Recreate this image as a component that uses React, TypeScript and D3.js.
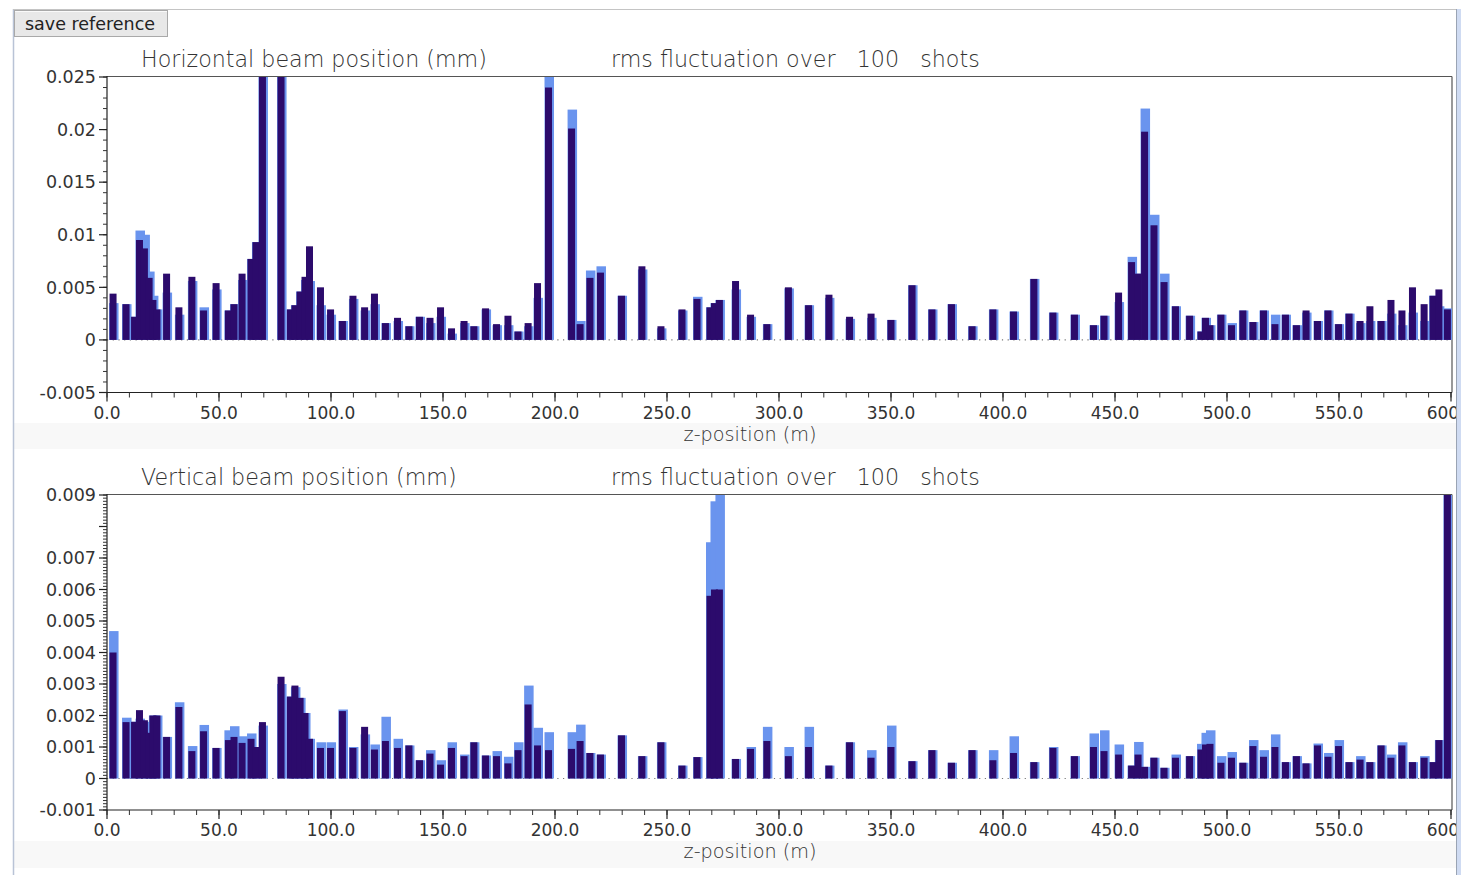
import React from "react";
import * as d3 from "d3";

// BPM positions along the beamline (m)
const zPos = [
  2.7, 8.5, 12.3, 14.5, 16.7, 18.8, 20.5, 22.3, 26.6, 32.1,
  37.9, 43.1, 48.7, 54.2, 56.7, 60.3, 64.3, 66.5, 69.4, 77.7,
  81.9, 83.9, 86.2, 88.4, 90.4, 95.3, 99.8, 105.1, 109.8, 115.0,
  119.4, 124.3, 129.7, 134.8, 139.5, 144.2, 148.9, 153.8, 159.4, 163.8,
  169.0, 173.9, 179.0, 183.5, 188.0, 192.2, 197.1, 207.4, 211.2, 215.6,
  220.3, 229.7, 238.8, 247.3, 256.7, 263.4, 269.2, 271.2, 273.4, 280.6,
  287.3, 294.6, 304.2, 313.2, 322.3, 331.5, 341.1, 350.0, 359.4, 368.3,
  377.0, 386.2, 395.5, 404.7, 413.8, 422.3, 431.9, 440.4, 445.1, 451.6,
  457.4, 460.3, 463.2, 467.4, 471.9, 477.0, 483.3, 488.4, 490.4, 492.4,
  497.3, 502.0, 507.1, 511.6, 516.3, 521.4, 526.1, 531.0, 535.3, 540.4,
  545.1, 549.8, 554.5, 559.4, 563.8, 568.8, 573.2, 578.1, 582.8, 588.0,
  592.0, 594.6, 598.4,
];

// Horizontal rms (mm): current shots (dark) and saved reference (light)
const hCurrent = [
  0.0044, 0.0034, 0.0022, 0.0095, 0.0087, 0.0059, 0.0038, 0.0029, 0.0063, 0.0031,
  0.006, 0.0028, 0.0054, 0.0028, 0.0034, 0.0063, 0.0077, 0.0093, 0.03, 0.03,
  0.0029, 0.0033, 0.0046, 0.006, 0.0089, 0.005, 0.0029, 0.0018, 0.0042, 0.0031,
  0.0044, 0.0016, 0.0021, 0.0013, 0.0022, 0.0021, 0.0031, 0.0011, 0.0018, 0.0013,
  0.003, 0.0015, 0.0023, 0.0008, 0.0016, 0.0054, 0.024, 0.0201, 0.0015, 0.0059,
  0.0064, 0.0042, 0.007, 0.0013, 0.0029, 0.0039, 0.0031, 0.0035, 0.0038, 0.0056,
  0.0024, 0.0015, 0.005, 0.0033, 0.0043, 0.0022, 0.0025, 0.0019, 0.0052, 0.0029,
  0.0034, 0.0013, 0.0029, 0.0027, 0.0058, 0.0026, 0.0024, 0.0014, 0.0023, 0.0045,
  0.0074, 0.0063, 0.0198, 0.0109, 0.0055, 0.0032, 0.0023, 0.0008, 0.0021, 0.0014,
  0.0024, 0.0014, 0.0028, 0.0017, 0.0028, 0.0015, 0.0024, 0.0014, 0.0028, 0.0018,
  0.0028, 0.0015, 0.0025, 0.0018, 0.0032, 0.0018, 0.0038, 0.0028, 0.005, 0.0034,
  0.0042, 0.0048, 0.0029,
];
const hReference = [
  0.0035, 0.0034, 0.0022, 0.0104, 0.01, 0.0065, 0.0042, 0.0029, 0.0045, 0.0024,
  0.0056, 0.0031, 0.0048, 0.0028, 0.0034, 0.0057, 0.0077, 0.0093, 0.03, 0.03,
  0.0029, 0.0033, 0.0046, 0.0057, 0.0056, 0.0033, 0.0024, 0.0018, 0.0039, 0.0028,
  0.0034, 0.0016, 0.0018, 0.0013, 0.0022, 0.0016, 0.0022, 0.0006, 0.0016, 0.0013,
  0.0029, 0.0014, 0.0014, 0.0008, 0.0013, 0.004, 0.026, 0.0219, 0.0018, 0.0066,
  0.007, 0.0042, 0.0067, 0.0011, 0.0028, 0.0041, 0.0031, 0.0035, 0.0038, 0.0048,
  0.0022, 0.0015, 0.0049, 0.0033, 0.004, 0.002, 0.0021, 0.0019, 0.0052, 0.0029,
  0.0034, 0.0013, 0.0029, 0.0027, 0.0058, 0.0026, 0.0024, 0.0014, 0.0023, 0.0036,
  0.0079, 0.0063, 0.022, 0.0119, 0.0063, 0.0032, 0.0023, 0.0008, 0.0021, 0.0014,
  0.0024, 0.0016, 0.0028, 0.0017, 0.0028, 0.0024, 0.0024, 0.0014, 0.0026, 0.0018,
  0.0028, 0.0015, 0.0025, 0.0016, 0.0018, 0.0018, 0.0025, 0.0014, 0.0026, 0.0018,
  0.0042, 0.0032, 0.003,
];

// Vertical rms (mm)
const vCurrent = [
  0.004, 0.00179, 0.0018, 0.00217, 0.00185, 0.00145, 0.002, 0.002, 0.00132, 0.00227,
  0.00087, 0.0015, 0.00097, 0.00122, 0.00132, 0.00113, 0.00126, 0.001, 0.00179, 0.00323,
  0.0026, 0.00295, 0.00256, 0.00208, 0.00126, 0.00097, 0.00097, 0.00214, 0.00097, 0.00164,
  0.00092, 0.00119, 0.00097, 0.00105, 0.00058, 0.00079, 0.00044, 0.00097, 0.00071, 0.00115,
  0.00073, 0.00071, 0.00048, 0.0009, 0.00235, 0.00105, 0.0009, 0.00094, 0.00119, 0.00081,
  0.00076, 0.00137, 0.00071, 0.00115, 0.00041, 0.00068, 0.0058, 0.006, 0.006, 0.00062,
  0.00094, 0.00119, 0.00071, 0.001, 0.00041, 0.00115, 0.00066, 0.001, 0.00055, 0.0009,
  0.0005, 0.0009, 0.00058, 0.00081, 0.00052, 0.00097, 0.00071, 0.001, 0.00087, 0.00076,
  0.00041, 0.00076, 0.00037, 0.00066, 0.00034, 0.00066, 0.00071, 0.00092, 0.00108, 0.0011,
  0.0005, 0.00066, 0.0005, 0.00103, 0.00069, 0.001, 0.00052, 0.00071, 0.00048, 0.00105,
  0.00069, 0.00103, 0.00052, 0.0006, 0.00052, 0.00105, 0.00066, 0.00105, 0.00052, 0.00066,
  0.00052, 0.00122, 0.01,
];
const vReference = [
  0.00468, 0.00193, 0.0018, 0.0019, 0.0018, 0.0016, 0.002, 0.002, 0.00132, 0.00242,
  0.00103, 0.0017, 0.00097, 0.00153, 0.00166, 0.00134, 0.00143, 0.001, 0.00168, 0.003,
  0.0026, 0.0029, 0.00256, 0.00208, 0.00126, 0.00115, 0.00115, 0.00219, 0.001, 0.0014,
  0.00108, 0.00196, 0.00126, 0.00105, 0.00058, 0.0009, 0.00058, 0.00115, 0.00076, 0.00115,
  0.00073, 0.00087, 0.00069, 0.00115, 0.00295, 0.00161, 0.00147, 0.00147, 0.00171, 0.00081,
  0.00076, 0.00137, 0.00071, 0.00115, 0.00041, 0.00068, 0.0075, 0.0088, 0.0095, 0.00062,
  0.001, 0.00164, 0.001, 0.00164, 0.00041, 0.00115, 0.0009, 0.00168, 0.00055, 0.0009,
  0.0005, 0.0009, 0.0009, 0.00134, 0.00052, 0.001, 0.00071, 0.00143, 0.00153, 0.00108,
  0.00041, 0.00116, 0.00037, 0.00066, 0.00034, 0.00076, 0.00071, 0.0011, 0.00145, 0.00153,
  0.00071, 0.00084, 0.0005, 0.00122, 0.0009, 0.0014, 0.00052, 0.00071, 0.00048, 0.00111,
  0.00081, 0.00122, 0.00052, 0.00071, 0.00052, 0.00105, 0.00076, 0.00115, 0.00052, 0.00071,
  0.00052, 0.00122, 0.01,
];

const xTicks = [0, 50, 100, 150, 200, 250, 300, 350, 400, 450, 500, 550, 600];
const xTickLabels = ["0.0", "50.0", "100.0", "150.0", "200.0", "250.0", "300.0", "350.0", "400.0", "450.0", "500.0", "550.0", "600.0"];
const hYTicks = [-0.005, 0, 0.005, 0.01, 0.015, 0.02, 0.025];
const hYLabels = ["-0.005", "0", "0.005", "0.01", "0.015", "0.02", "0.025"];
const vYTicks = [-0.001, 0, 0.001, 0.002, 0.003, 0.004, 0.005, 0.006, 0.007, 0.008, 0.009];
const vYLabels = ["-0.001", "0", "0.001", "0.002", "0.003", "0.004", "0.005", "0.006", "0.007", "", "0.009"];

const LIGHT = "#6a94ee";
const DARK = "#2c0b6c";
const TXT = "#333";
const FONT = "'DejaVu Sans', sans-serif";

type PanelProps = {
  id: string;
  title: string;
  cur: number[];
  refv: number[];
  yDomain: [number, number];
  yTicks: number[];
  yLabels: string[];
  minorStep: number;
  top: number;
  bottom: number;
};

function Panel({ id, title, cur, refv, yDomain, yTicks, yLabels, minorStep, top, bottom }: PanelProps) {
  const left = 107;
  const right = 1451;
  const x = d3.scaleLinear().domain([0, 600]).range([left, right]);
  const y = d3.scaleLinear().domain(yDomain).range([bottom, top]);
  const y0 = y(0);
  const minorX = d3.range(0, 600.001, 10);
  const nMinor = Math.round((yDomain[1] - yDomain[0]) / minorStep);
  const minorY = d3.range(0, nMinor + 1).map((i) => yDomain[0] + i * minorStep);
  return (
    <g>
      <defs>
        <clipPath id={id}>
          <rect x={left} y={top} width={right - left + 1} height={bottom - top} />
        </clipPath>
      </defs>
      <text x={141} y={top - 10} fontFamily={FONT} fontWeight={300} fontSize={22.2} fill={TXT}>{title}</text>
      <text x={611} y={top - 10} fontFamily={FONT} fontWeight={300} fontSize={22.2} fill={TXT} style={{ whiteSpace: "pre" }}>
        {"rms fluctuation over   100   shots"}
      </text>
      {/* frame */}
      <line x1={left} x2={right + 1} y1={top - 0.5} y2={top - 0.5} stroke="#555" strokeWidth={1.2} />
      <line x1={right + 1} x2={right + 1} y1={top - 0.5} y2={bottom} stroke="#555" strokeWidth={1.2} />
      {/* zero dotted line */}
      <line x1={left} x2={right} y1={y0} y2={y0} stroke="#777" strokeWidth={1.2} strokeDasharray="1.2,4.5" />
      <g clipPath={`url(#${id})`}>
        {zPos.map((z, i) => {
          const v = refv[i];
          return (
            <rect key={"r" + i} x={x(z) - 4} width={9.5} y={y(v)} height={y0 - y(v)} fill={LIGHT} />
          );
        })}
        {zPos.map((z, i) => {
          const v = cur[i];
          return (
            <rect key={"c" + i} x={x(z) - 3.5} width={7} y={y(v)} height={y0 - y(v)} fill={DARK} />
          );
        })}
      </g>
      {/* y axis */}
      <line x1={left} x2={left} y1={top - 1} y2={bottom + 0.5} stroke="#222" strokeWidth={1.2} />
      {minorY.map((v, i) => (
        <line key={"my" + i} x1={left - 4} x2={left} y1={y(v)} y2={y(v)} stroke="#333" strokeWidth={1} />
      ))}
      {yTicks.map((v, i) => (
        <g key={"yt" + i}>
          <line x1={left - 8} x2={left} y1={y(v)} y2={y(v)} stroke="#222" strokeWidth={1.2} />
          <text x={left - 11} y={y(v)} dy="0.36em" textAnchor="end" fontFamily={FONT} fontSize={17.5} fill={TXT}>
            {yLabels[i]}
          </text>
        </g>
      ))}
      {/* x axis */}
      <line x1={left} x2={right + 1} y1={bottom} y2={bottom} stroke="#222" strokeWidth={1.2} />
      {minorX.map((v, i) => (
        <line key={"mx" + i} x1={x(v)} x2={x(v)} y1={bottom} y2={bottom + 5} stroke="#333" strokeWidth={1} />
      ))}
      {xTicks.map((v, i) => (
        <g key={"xt" + i}>
          <line x1={x(v)} x2={x(v)} y1={bottom} y2={bottom + 9} stroke="#222" strokeWidth={1.2} />
          <text x={x(v)} y={bottom + 26} textAnchor="middle" fontFamily={FONT} fontSize={17} fill={TXT}>
            {xTickLabels[i]}
          </text>
        </g>
      ))}
      <text x={750} y={bottom + 48} textAnchor="middle" fontFamily={FONT} fontWeight={300} fontSize={19.2} fill={TXT}>
        z-position (m)
      </text>
    </g>
  );
}

export default function App() {
  return (
    <svg
      width={1461}
      height={875}
      style={{ position: "absolute", left: 0, top: 0, background: "#fff" }}
    >
      <rect x={0} y={0} width={1461} height={875} fill="#fff" />
      {/* light bands under x-axes */}
      <rect x={14} y={423} width={1442} height={26} fill="#f8f8f8" />
      <rect x={14} y={841} width={1442} height={27} fill="#f8f8f8" />
      {/* window frame */}
      <line x1={13.5} x2={13.5} y1={9} y2={875} stroke="#b9c3d6" strokeWidth={1.5} />
      <line x1={13} x2={1457} y1={9.5} y2={9.5} stroke="#c4c4c4" strokeWidth={1} />
      {/* button */}
      <rect x={14.5} y={10.5} width={153} height={26} fill="#e8e8e8" stroke="#a9a9a9" strokeWidth={1} />
      <line x1={15} x2={167} y1={11.5} y2={11.5} stroke="#fafafa" />
      <text x={25} y={30} fontFamily={FONT} fontSize={17.5} fill="#222">save reference</text>

      <Panel
        id="clipH"
        title="Horizontal beam position (mm)"
        cur={hCurrent}
        refv={hReference}
        yDomain={[-0.005, 0.025]}
        yTicks={hYTicks}
        yLabels={hYLabels}
        minorStep={0.001}
        top={77}
        bottom={392.5}
      />
      <Panel
        id="clipV"
        title="Vertical beam position (mm)"
        cur={vCurrent}
        refv={vReference}
        yDomain={[-0.001, 0.009]}
        yTicks={vYTicks}
        yLabels={vYLabels}
        minorStep={0.0001}
        top={495}
        bottom={810}
      />
      {/* right window edge */}
      <rect x={1456} y={9} width={5} height={866} fill="#cfdbf2" />
      <line x1={1456.5} x2={1456.5} y1={9} y2={875} stroke="#9aa4b4" strokeWidth={1} />
    </svg>
  );
}
